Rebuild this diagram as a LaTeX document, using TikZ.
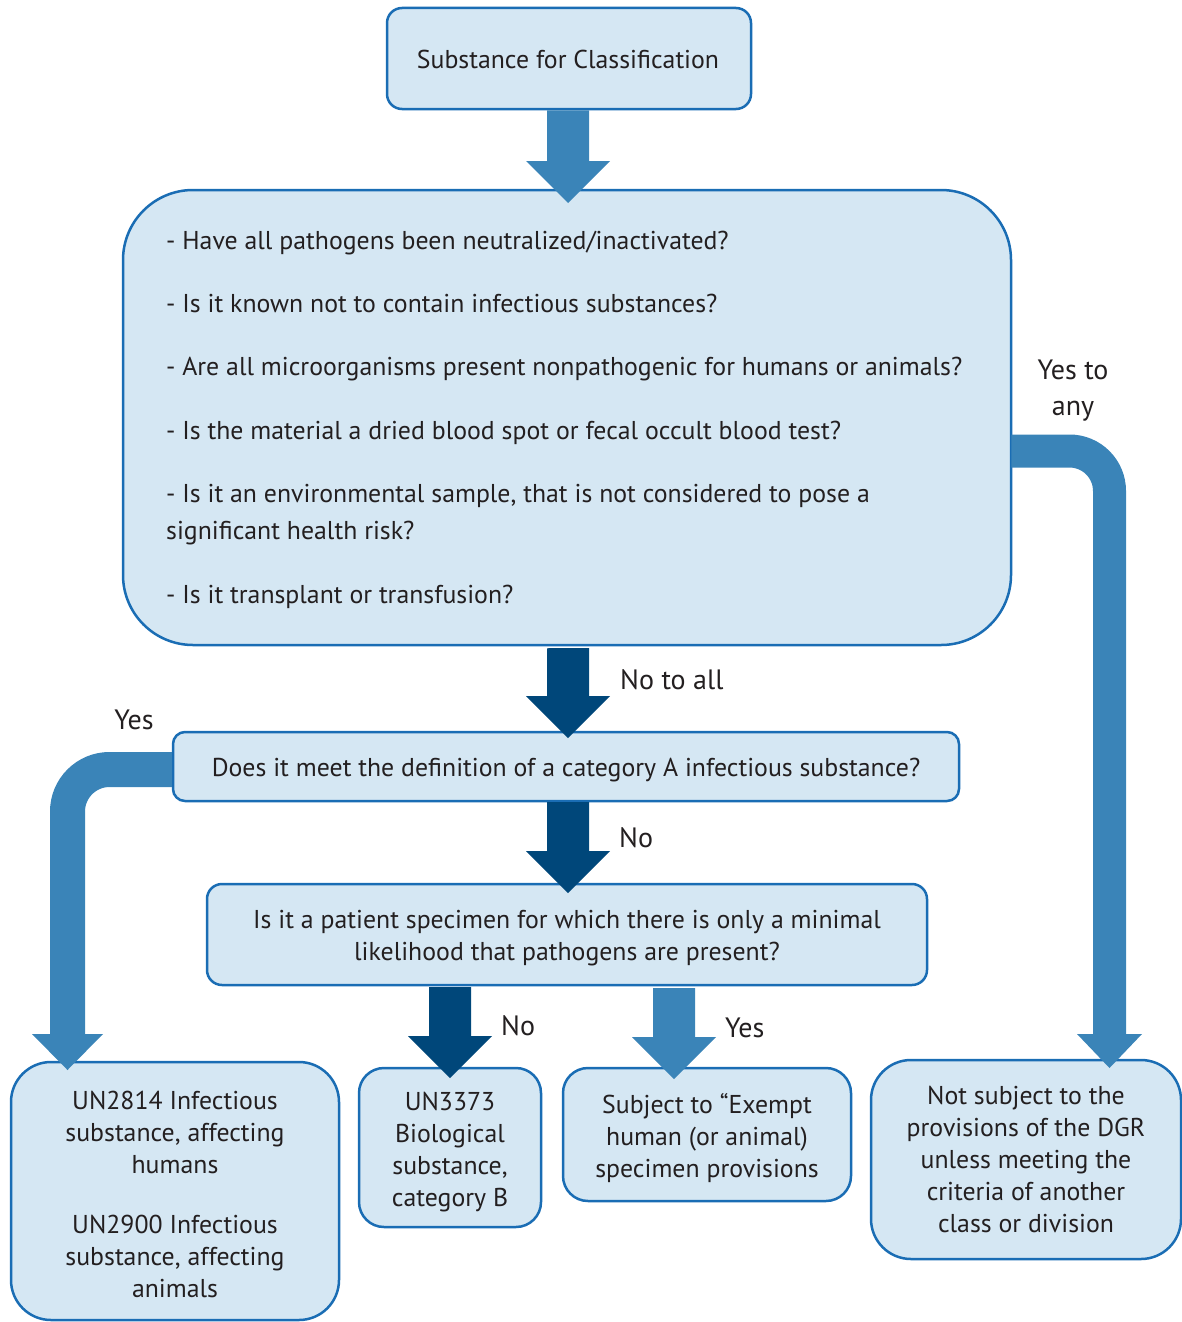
\documentclass[tikz,border=0pt]{standalone}
\usepackage{fontspec}
\setmainfont{PT Sans}
\definecolor{boxfill}{HTML}{D5E7F3}
\definecolor{boxline}{HTML}{1A6DB4}
\definecolor{midblue}{HTML}{3A84B8}
\definecolor{darkblue}{HTML}{00477A}
\definecolor{txt}{HTML}{231F20}
\begin{document}
\begin{tikzpicture}[x=1pt,y=-1pt,
  every node/.style={text=txt,font=\fontsize{25.8}{32}\selectfont,inner sep=0pt},
  box/.style={draw=boxline,line width=2.5pt,fill=boxfill,align=center},
  lbl/.style={anchor=base},
  arrlbl/.style={font=\fontsize{28}{36}\selectfont},
]
\useasboundingbox (0,0) rectangle (1182,1322);
% boxes
\node[box,rounded corners=15,minimum width=364,minimum height=101] (top) at (569,58.5) {};
\node[box,rounded corners=70,minimum width=888,minimum height=455] (big) at (567,417.5) {};
\node[box,rounded corners=12,minimum width=786,minimum height=69] (cata) at (566,766.5) {};
\node[box,rounded corners=15,minimum width=720,minimum height=101] (pat) at (567,934.5) {};
\node[box,rounded corners=40,minimum width=328,minimum height=258] (un2814) at (175,1191) {};
\node[box,rounded corners=25,minimum width=182,minimum height=159] (un3373) at (450,1147.5) {};
\node[box,rounded corners=25,minimum width=288,minimum height=133] (exempt) at (707,1134.5) {};
\node[box,rounded corners=40,minimum width=310,minimum height=199] (notsub) at (1026,1159.5) {};
% texts
\node[lbl] (t0) at (568,68) {Substance for Classification};
\node[lbl,anchor=base west] (q1) at (166,249) {- Have all pathogens been neutralized/inactivated?};
\node[lbl,anchor=base west] (q2) at (166,312) {- Is it known not to contain infectious substances?};
\node[lbl,anchor=base west] (q3) at (166,375) {- Are all microorganisms present nonpathogenic for humans or animals?};
\node[lbl,anchor=base west] (q4) at (166,439) {- Is the material a dried blood spot or fecal occult blood test?};
\node[lbl,anchor=base west] (q5) at (166,502) {- Is it an environmental sample, that is not considered to pose a};
\node[lbl,anchor=base west] (q5b) at (166,539) {significant health risk?};
\node[lbl,anchor=base west] (q6) at (166,603) {- Is it transplant or transfusion?};
\node[lbl] (ta) at (566,776) {Does it meet the definition of a category A infectious substance?};
\node[lbl] (tp1) at (567,928) {Is it a patient specimen for which there is only a minimal};
\node[lbl] (tp2) at (567,960) {likelihood that pathogens are present?};
\node[anchor=north,align=center] (t2814) at (175,1091) {UN2814 Infectious\\substance, affecting\\humans\\[28pt]UN2900 Infectious\\substance, affecting\\animals};
\node[anchor=north,align=center] (t3373) at (450,1092) {UN3373\\Biological\\substance,\\category B};
\node[anchor=north,align=center] (texempt) at (707,1093) {Subject to “Exempt\\human (or animal)\\specimen provisions};
\node[anchor=north,align=center] (tnot) at (1026,1086) {Not subject to the\\provisions of the DGR\\unless meeting the\\criteria of another\\class or division};
% labels
\node[lbl,arrlbl,anchor=base west] (l1) at (620,689) {No to all};
\node[lbl,arrlbl] (l2) at (134,729) {Yes};
\node[lbl,arrlbl,anchor=base west] (l3) at (619,847) {No};
\node[lbl,arrlbl,anchor=base west] (l4) at (501,1035) {No};
\node[lbl,arrlbl,anchor=base west] (l5) at (725,1037) {Yes};
\node[lbl,arrlbl] (l6) at (1073,379) {Yes to};
\node[lbl,arrlbl] (l7) at (1073,415) {any};
% straight arrows
\fill[midblue] (top.south -| 547,0) -- (547,161) -- (526,161) -- (568,203) -- (610,161) -- (589,161) -- (top.south -| 589,0) -- cycle;
\fill[darkblue] (big.south -| 547,0) ++(0,2) -- (547,696) -- (526,696) -- (568,738) -- (610,696) -- (589,696) -- (589,648) -- cycle;
\fill[darkblue] (547,802) -- (547,851) -- (526,851) -- (568,893) -- (610,851) -- (589,851) -- (589,802) -- cycle;
\fill[darkblue] (429,987) -- (429,1036) -- (408,1036) -- (450,1078) -- (492,1036) -- (471,1036) -- (471,987) -- cycle;
\fill[midblue] (653,988) -- (653,1037) -- (632,1037) -- (674,1079) -- (716,1037) -- (695,1037) -- (695,988) -- cycle;
% bent arrows
\coordinate (lcorner) at (67.5,769.5);
\coordinate (lend) at (67.5,1036);
\draw[midblue,line width=35pt,rounded corners=42] (cata.west |- 0,769.5) -- (lcorner) -- (lend);
\fill[midblue] (32,1034) -- (67.5,1070) -- (103,1034) -- cycle;
\coordinate (rcorner) at (1109.5,451);
\coordinate (rend) at (1109.5,1036);
\draw[midblue,line width=33pt,rounded corners=40] (big.east |- 0,451) ++(-1,0) -- (rcorner) -- (rend);
\fill[midblue] (1077,1034) -- (1109.5,1068) -- (1142,1034) -- cycle;
\end{tikzpicture}
\end{document}
